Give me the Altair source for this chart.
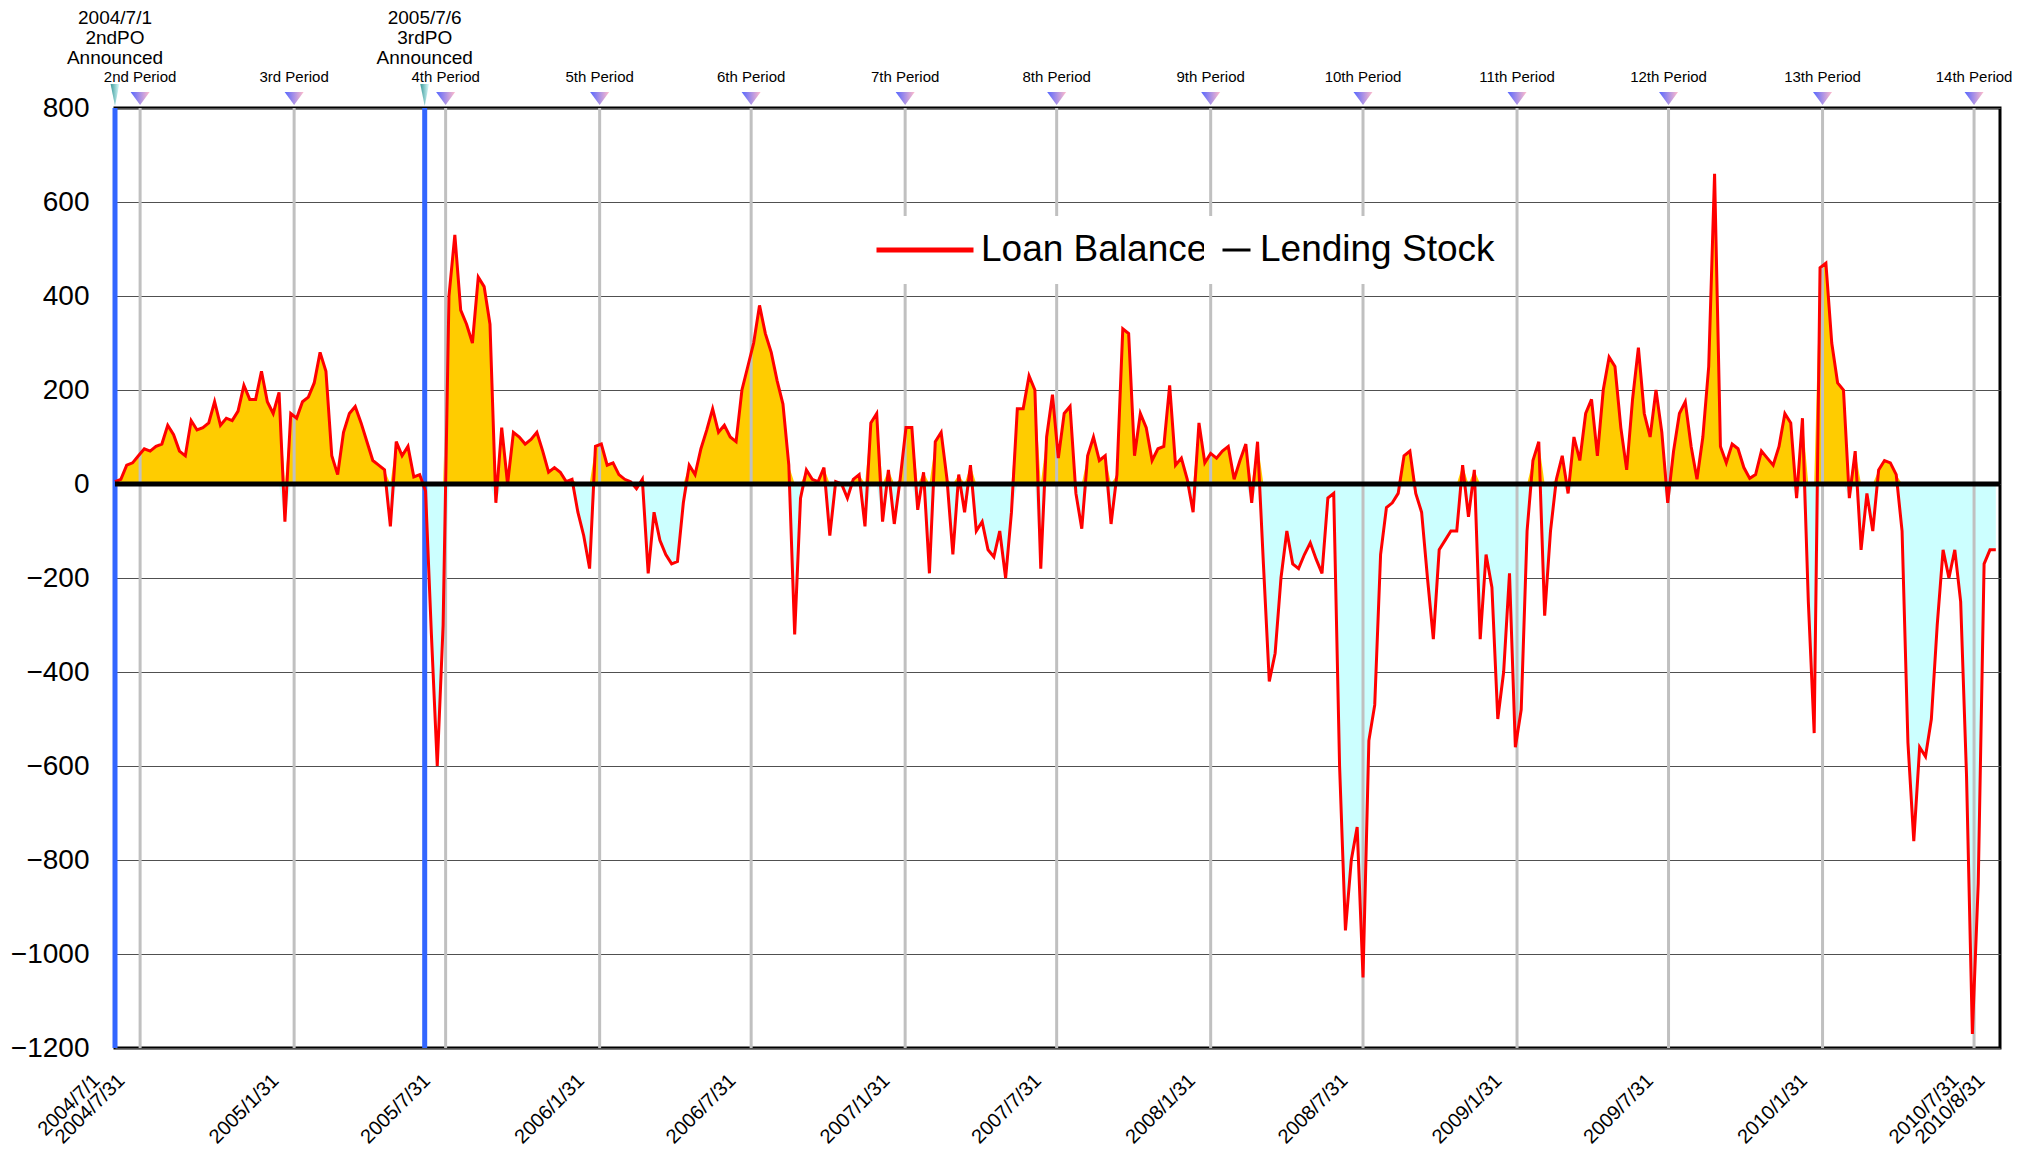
import altair as alt
import pandas as pd

# ---------------- data ----------------
start_date = "2004-07-01"          # first weekly observation
x_start, x_end = "2004-07-01", "2010-08-31"

# weekly loan balance (one value per week from start_date)
loan_balance = [
    5, 10, 40, 45, 60, 75, 70, 80, 85, 125,
    105, 70, 60, 135, 115, 120, 130, 175, 125, 140,
    135, 155, 210, 180, 180, 240, 175, 150, 195, -80,
    150, 140, 175, 185, 215, 280, 240, 60, 20, 110,
    150, 165, 130, 90, 50, 40, 30, -90, 90, 60,
    80, 15, 20, -15,
    -320, -600, -300, 400, 530, 370, 340, 300, 440, 420,
    340, -40, 120, 0, 110, 100, 85, 95, 110, 70,
    25, 35, 25, 5, 10, -60, -110, -180, 80, 85,
    40, 45, 20, 10, 5, -10, 10, -190, -60, -120,
    -150, -170, -165, -40, 40, 20, 75, 115, 160, 110,
    125, 100, 90,
    200, 250, 300, 380, 320, 280, 220, 170, 40, -320,
    -30, 30, 10, 5, 35, -110, 5, 0, -30, 10,
    20, -90, 130, 150, -80, 30, -85, 10, 120, 120,
    -55, 25, -190, 90, 110, 10, -150, 20, -60, 40,
    -100, -80, -140, -155, -100, -200, -60, 160, 160, 230,
    200, -180, 100,
    190, 55, 150, 165, -20, -95, 60, 100, 50, 60,
    -85, 20, 330, 320, 60, 150, 120, 50, 75, 80,
    210, 40, 55, 10, -60, 130, 45, 65, 55, 70,
    80, 10, 50, 85, -40, 90, -170, -420, -360, -200,
    -100, -170, -180, -150, -125, -160, -190, -30, -20, -600,
    -950, -800, -730, -1050,
    -546, -470, -150, -50, -40, -20, 60, 70, -20, -60,
    -200, -330, -140, -120, -100, -100, 40, -70, 30, -330,
    -150, -220, -500, -400, -190, -560, -480, -100, 50, 90,
    -280, -100, 10, 60, -20, 100, 50, 150, 180, 60,
    200, 270, 250, 120, 30, 180, 290, 150, 100, 200,
    110,
    -40, 70, 150, 175, 80, 10, 100, 250, 660, 80,
    45, 85, 75, 35, 12, 20, 70, 55, 40, 80,
    150, 130, -30, 140, -250, -530, 460, 470, 300, 215,
    200, -30, 70, -140, -20, -100, 30, 50, 45, 20,
    -100, -550, -760, -560, -580, -500, -300, -140, -200, -140,
    -250, -620, -1170, -850, -170, -140, -140,
]

lending_stock = [0]

grid_dates = ["2004-07-31", "2005-01-31", "2005-07-31", "2006-01-31", "2006-07-31",
              "2007-01-31", "2007-07-31", "2008-01-31", "2008-07-31", "2009-01-31",
              "2009-07-31", "2010-01-31", "2010-07-31"]
period_labels = ["2nd Period", "3rd Period", "4th Period", "5th Period", "6th Period",
                 "7th Period", "8th Period", "9th Period", "10th Period", "11th Period",
                 "12th Period", "13th Period", "14th Period"]
po_dates = ["2004-07-01", "2005-07-06"]
po_labels = ["2004/7/1\n2ndPO\nAnnounced", "2005/7/6\n3rdPO\nAnnounced"]
axis_dates = ["2004-07-01"] + grid_dates + ["2010-08-31"]
y_ticks = [-1200, -1000, -800, -600, -400, -200, 0, 200, 400, 600, 800]

# ---------------- tables ----------------
weeks = pd.date_range(start_date, periods=len(loan_balance), freq="7D")
loan_df = pd.DataFrame({"date": weeks, "v": loan_balance, "series": "Loan Balance"})
grid_df = pd.DataFrame({"date": pd.to_datetime(grid_dates), "label": period_labels})
po_df = pd.DataFrame({"date": pd.to_datetime(po_dates), "label": po_labels})
stock_df = pd.DataFrame({"series": ["Lending Stock"], "v": lending_stock})


def dt(s):
    t = pd.Timestamp(s)
    return alt.DateTime(year=t.year, month=t.month, date=t.day)


FONT = "Liberation Sans"

x_scale = alt.Scale(domain=[dt(x_start), dt(x_end)], nice=False)
x_axis = alt.Axis(values=[dt(d) for d in axis_dates],
                  labelExpr="timeFormat(datum.value, '%Y/%-m/%-d')",
                  labelAngle=-45, labelAlign="right", labelBaseline="top",
                  labelFontSize=20, labelPadding=22, labelOffset=-26,
                  labelFlush=False, labelOverlap=False, labelBound=False,
                  ticks=False, domain=False, grid=False, title=None,
                  labelColor="black", labelFont=FONT)
y_scale = alt.Scale(domain=[-1200, 800], nice=False)
y_axis = alt.Axis(values=y_ticks, format="d", labelFontSize=28, labelPadding=26,
                  ticks=False, domain=False, grid=True, gridColor="#505050",
                  gridWidth=1, title=None, labelColor="black", labelFont=FONT)


def X():
    return alt.X("date:T", scale=x_scale, axis=x_axis)


def legend_at(x, size, width):
    return alt.Legend(title=None, orient="none", legendX=x, legendY=108,
                      symbolType="stroke", symbolSize=size, symbolStrokeWidth=width,
                      clipHeight=40, labelFontSize=37, labelFont=FONT,
                      labelColor="black", labelLimit=500, fillColor="white",
                      padding=14, labelOffset=5)


pos_area = alt.Chart(loan_df).transform_calculate(
    pos="max(datum.v, 0)"
).mark_area(color="#FFCC00", opacity=1).encode(
    x=X(), y=alt.Y("pos:Q", scale=y_scale, axis=y_axis, stack=None), y2=alt.datum(0)
)
neg_area = alt.Chart(loan_df).transform_calculate(
    neg="min(datum.v, 0)"
).mark_area(color="#CCFFFF", opacity=1).encode(
    x=X(), y=alt.Y("neg:Q", scale=y_scale, axis=y_axis, stack=None), y2=alt.datum(0)
)

grid_rules = alt.Chart(grid_df).mark_rule(color="#c0c0c0", strokeWidth=3).encode(x=X())
po_rules = alt.Chart(po_df).mark_rule(color="#3366ff", strokeWidth=5).encode(x=X())

line = alt.Chart(loan_df).mark_line(strokeWidth=3, interpolate="linear").encode(
    x=X(),
    y=alt.Y("v:Q", scale=y_scale, axis=y_axis),
    color=alt.Color("series:N",
                    scale=alt.Scale(domain=["Loan Balance"], range=["#ff0000"]),
                    legend=legend_at(745, 9409, 5)),
)

zero_rule = alt.Chart(stock_df).mark_rule(strokeWidth=5).encode(
    y=alt.Y("v:Q", scale=y_scale, axis=y_axis),
    color=alt.Color("series:N",
                    scale=alt.Scale(domain=["Lending Stock"], range=["#000000"]),
                    legend=legend_at(1089, 784, 3)),
)

period_grad = alt.LinearGradient(
    gradient="linear",
    stops=[alt.GradientStop(color="#5566ff", offset=0),
           alt.GradientStop(color="#ffbccb", offset=1)],
    x1=0, x2=1, y1=0, y2=0)
teal_grad = alt.LinearGradient(
    gradient="linear",
    stops=[alt.GradientStop(color="#3a9a9a", offset=0),
           alt.GradientStop(color="#e0ffff", offset=1)],
    x1=0, x2=1, y1=0, y2=0)

period_tri = alt.Chart(grid_df).mark_point(
    shape="M-1,-0.68L1,-0.68L0,0.68Z", size=361, filled=True, fill=period_grad,
    opacity=1, strokeWidth=0
).encode(x=X(), y=alt.value(-9.5))

po_tri = alt.Chart(po_df).mark_point(
    shape="M-0.4,-1L0.4,-1L0,1Z", size=484, filled=True, fill=teal_grad,
    opacity=1, strokeWidth=0
).encode(x=X(), y=alt.value(-13))

period_text = alt.Chart(grid_df).mark_text(
    fontSize=15, font=FONT, color="black", baseline="middle", align="center"
).encode(x=X(), y=alt.value(-31), text="label:N")

po_text = alt.Chart(po_df).mark_text(
    fontSize=19, lineHeight=20, lineBreak="\n", baseline="top", align="center",
    font=FONT, color="black"
).encode(x=X(), y=alt.value(-99), text="label:N")

chart = alt.layer(
    pos_area, neg_area, grid_rules, po_rules, line, zero_rule,
    period_tri, po_tri, period_text, po_text
).resolve_scale(color="independent").properties(
    width=1885, height=940,
    autosize=alt.AutoSizeParams(type="none"),
    padding={"left": 107, "top": 100, "right": 20, "bottom": 99},
    background="white",
).configure_view(stroke="black", strokeWidth=3)

chart.save("out.html", embed_options={"renderer": "svg", "actions": False})
